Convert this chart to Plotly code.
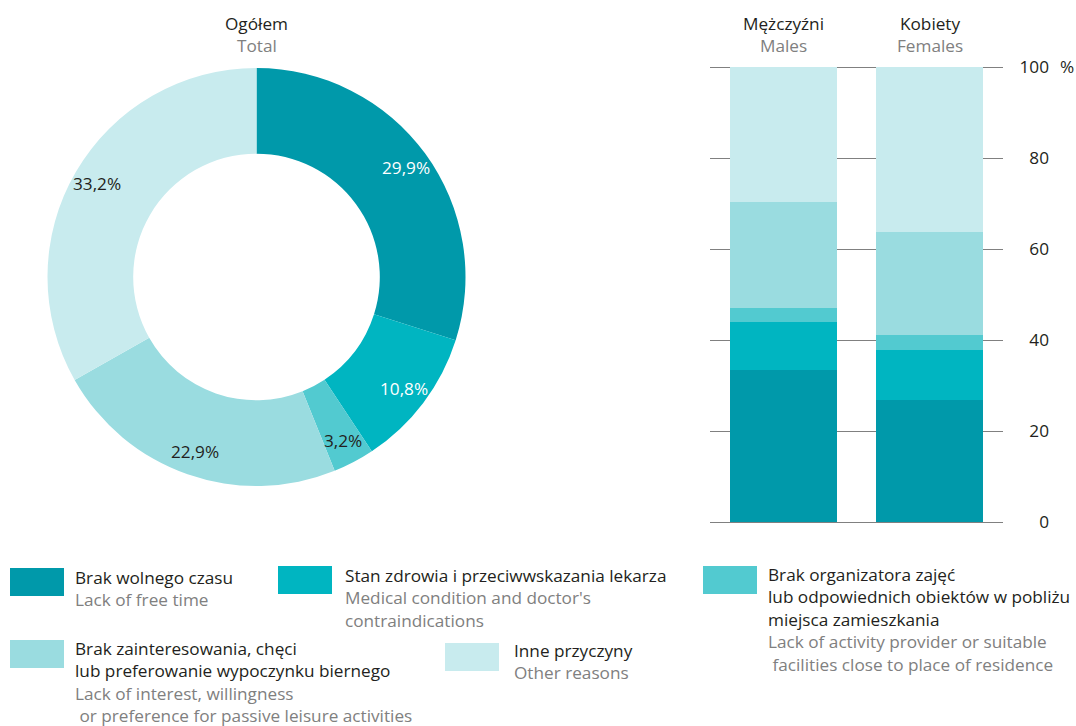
import math
import plotly.graph_objects as go

# ---- data -------------------------------------------------------------
reasons_pl = [
    "Brak wolnego czasu",
    "Stan zdrowia i przeciwwskazania lekarza",
    "Brak organizatora zajęć<br>lub odpowiednich obiektów w pobliżu<br>miejsca zamieszkania",
    "Brak zainteresowania, chęci<br>lub preferowanie wypoczynku biernego",
    "Inne przyczyny",
]
reasons_en = [
    "Lack of free time",
    "Medical condition and doctor's<br>contraindications",
    "Lack of activity provider or suitable<br>\u00a0facilities close to place of residence",
    "Lack of interest, willingness<br>\u00a0or preference for passive leisure activities",
    "Other reasons",
]
total_pct = [29.9, 10.8, 3.2, 22.9, 33.2]
groups = ["Mężczyźni", "Kobiety"]
groups_en = ["Males", "Females"]
males_pct = [33.3, 10.7, 3.1, 23.2, 29.7]
females_pct = [26.9, 11.0, 3.3, 22.6, 36.2]
y_ticks = [0, 20, 40, 60, 80, 100]

# ---- styling ----------------------------------------------------------
W, H = 1076, 726
colors = ["#0099AA", "#00B5C1", "#52CAD0", "#9ADCE0", "#C8EBEE"]
label_colors = ["#FFFFFF", "#FFFFFF", "#231F20", "#231F20", "#231F20"]
FONT = "Open Sans"
FS = 17.2
DARK = "#231F20"
GREY = "#808080"


def px(x):
    return x / W


def py(y):
    return 1 - y / H


fig = go.Figure()

# donut: total
cx, cy, R = 256.5, 277.0, 209.0
fig.add_trace(go.Pie(
    values=total_pct,
    labels=[r.split("<br>")[0] for r in reasons_pl],
    sort=False,
    direction="clockwise",
    rotation=0,
    hole=0.59,
    marker=dict(colors=colors, line=dict(width=0)),
    textinfo="none",
    hoverinfo="label+value",
    showlegend=False,
    domain=dict(x=[px(cx - R), px(cx + R)], y=[py(cy + R), py(cy - R)]),
))

# value labels placed at the middle angle of each slice
annotations = []
acc = 0.0
tot = sum(total_pct)
r_lab = 185
for v, c in zip(total_pct, label_colors):
    mid = (acc + v / 2) / tot * 2 * math.pi
    acc += v
    lx = cx + r_lab * math.sin(mid)
    ly = cy - r_lab * math.cos(mid)
    annotations.append(dict(
        x=px(lx), y=py(ly), xref="paper", yref="paper",
        text=f"{v:.1f}%".replace(".", ","), showarrow=False,
        font=dict(family=FONT, size=FS, color=c),
        xanchor="center", yanchor="middle",
    ))

# donut heading
annotations.append(dict(x=px(cx), y=py(23), xref="paper", yref="paper", text="Ogółem",
                        showarrow=False, font=dict(family=FONT, size=FS, color=DARK),
                        xanchor="center", yanchor="middle"))
annotations.append(dict(x=px(cx), y=py(46), xref="paper", yref="paper", text="Total",
                        showarrow=False, font=dict(family=FONT, size=FS, color=GREY),
                        xanchor="center", yanchor="middle"))

# stacked bars: males / females
for i in range(len(reasons_pl)):
    fig.add_trace(go.Bar(
        x=groups,
        y=[males_pct[i], females_pct[i]],
        marker=dict(color=colors[i], line=dict(width=0)),
        xaxis="x2", yaxis="y2",
        showlegend=False,
        hovertemplate="%{x}: %{y}%<extra></extra>",
    ))

# empty trace that carries the right-hand percentage scale
fig.add_trace(go.Scatter(
    x=groups, y=[None, None], xaxis="x2", yaxis="y3",
    mode="markers", showlegend=False, hoverinfo="skip",
))

# column headings above each bar
for g, e in zip(groups, groups_en):
    annotations.append(dict(x=g, y=py(23), xref="x2", yref="paper", text=g,
                            showarrow=False, font=dict(family=FONT, size=FS, color=DARK),
                            xanchor="center", yanchor="middle"))
    annotations.append(dict(x=g, y=py(46), xref="x2", yref="paper", text=e,
                            showarrow=False, font=dict(family=FONT, size=FS, color=GREY),
                            xanchor="center", yanchor="middle"))

annotations.append(dict(x=px(1058), y=py(67), xref="paper", yref="paper", text="%",
                        showarrow=False, font=dict(family=FONT, size=FS, color=DARK),
                        xanchor="left", yanchor="middle"))

# ---- custom legend ----------------------------------------------------
shapes = []
legend_items = [
    # swatch x0, y0, text x, first line centre
    (10, 568, 73, 577),
    (278, 566, 343, 575),
    (703, 566, 766, 574),
    (10, 640, 73, 648),
    (445, 643, 512, 650),
]
LINE = 22.6
for i, (sx, sy, tx, ty) in enumerate(legend_items):
    shapes.append(dict(type="rect", xref="paper", yref="paper",
                       x0=px(sx), x1=px(sx + 54), y0=py(sy), y1=py(sy + 28),
                       fillcolor=colors[i], line=dict(width=0), layer="above"))
    lines = [(t, DARK) for t in reasons_pl[i].split("<br>")] + \
            [(t, GREY) for t in reasons_en[i].split("<br>")]
    for k, (t, col) in enumerate(lines):
        annotations.append(dict(
            x=px(tx), y=py(ty + k * LINE), xref="paper", yref="paper",
            text=t, showarrow=False, font=dict(family=FONT, size=FS, color=col),
            xanchor="left", yanchor="middle",
        ))

# value range padded on both ends so the end tick labels stay visible
Y_LO, Y_HI = -3.0, 103.0
unit = (522 - 67) / 100.0
plot_top = 67 - (Y_HI - 100) * unit
plot_bot = 522 + (0 - Y_LO) * unit

fig.update_layout(
    width=W, height=H,
    margin=dict(l=0, r=0, t=0, b=0),
    paper_bgcolor="white", plot_bgcolor="white",
    font=dict(family=FONT, size=FS, color=DARK),
    barmode="stack", bargap=0.27,
    xaxis2=dict(
        domain=[px(710), px(1003)], anchor="y2", side="top",
        showticklabels=False, ticks="", showline=False, showgrid=False, zeroline=False,
    ),
    yaxis2=dict(
        domain=[py(plot_bot), py(plot_top)], anchor="x2", range=[Y_LO, Y_HI],
        tickvals=y_ticks, showticklabels=False, ticks="",
        showgrid=True, gridcolor=GREY, gridwidth=1,
        zeroline=True, zerolinecolor=GREY, zerolinewidth=1, showline=False,
    ),
    yaxis3=dict(
        overlaying="y2", anchor="free", position=px(1052), side="right",
        range=[Y_LO, Y_HI], tickvals=y_ticks, ticktext=[str(t) for t in y_ticks],
        ticklabelposition="inside", ticks="", showgrid=False, zeroline=False,
        showline=False, tickfont=dict(family=FONT, size=FS, color=DARK),
    ),
    annotations=annotations,
    shapes=shapes,
)

fig.write_html("out.html")
